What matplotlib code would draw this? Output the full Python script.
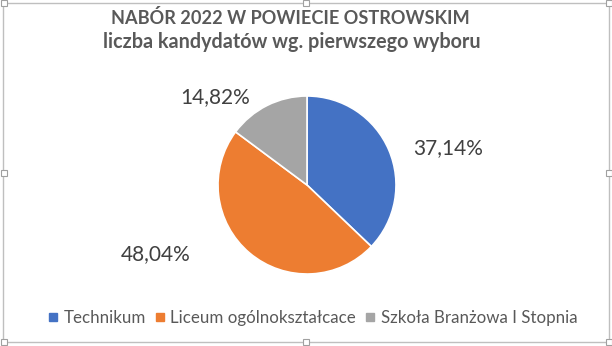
import numpy as np
import matplotlib.pyplot as plt
from matplotlib.patches import Rectangle
from matplotlib.lines import Line2D

plt.rcParams['font.family'] = ['Lato', 'DejaVu Sans']

# data
categories = ['Technikum', 'Liceum ogólnokształcace', 'Szkoła Branżowa I Stopnia']
shares = [37.14, 48.04, 14.82]
colors = ['#4472C4', '#ED7D31', '#A5A5A5']
title_lines = ['NABÓR 2022 W POWIECIE OSTROWSKIM',
               'liczba kandydatów wg. pierwszego wyboru']

W, H = 612, 346
cx, cy, R = 307, 185, 89   # pie centre / radius in pixels (from top)

fig = plt.figure(figsize=(W / 100, H / 100), dpi=100)
ax = fig.add_axes([0, 0, 1, 1])

wedges, _ = ax.pie(shares, colors=colors, startangle=90, counterclock=False,
                   wedgeprops=dict(edgecolor='white', linewidth=1.2))

# pixel-scaled data limits so 1 unit == R pixels
ax.set_xlim(-cx / R, (W - cx) / R)
ax.set_ylim(-(H - cy) / R, cy / R)
ax.set_aspect('auto')
ax.axis('off')

# data labels outside the wedges (Excel "best fit" placement), in pie radii
label_pos = [(1.58, 0.42), (-1.70, -0.78), (-1.03, 0.99)]
for val, (lx, ly) in zip(shares, label_pos):
    ax.text(lx, ly, f'{val:.2f}%'.replace('.', ','),
            ha='center', va='center', fontsize=15, color='#404040')

# title
fig.text(290 / W, 1 - 18 / H, title_lines[0], ha='center', va='center',
         fontsize=13.1, fontweight='bold', color='#595959')
fig.text(292 / W, 1 - 42 / H, title_lines[1], ha='center', va='center',
         fontsize=14.2, fontweight='bold', color='#595959')

# legend
handles = [Line2D([], [], marker='s', linestyle='none', markersize=6,
                  markerfacecolor=c, markeredgecolor=c) for c in colors]
fig.legend(handles, categories, loc='center', bbox_to_anchor=(311 / W, 1 - 318 / H),
           ncol=3, frameon=False, fontsize=12.2, labelcolor='#595959',
           handletextpad=0.1, columnspacing=0.35, handlelength=1.0)

# chart frame with selection handles
fig.patches.append(Rectangle((3.5 / W, 4 / H), 605 / W, 339 / H, transform=fig.transFigure,
                             fill=False, edgecolor='#BFBFBF', linewidth=1))
for hx in (3.5, 306, 608.5):
    for hy in (3, 173, 342):
        if hx == 306 and hy == 173:
            continue
        fig.patches.append(Rectangle(((hx - 3) / W, 1 - (hy + 3) / H), 6 / W, 6 / H,
                                     transform=fig.transFigure, facecolor='white',
                                     edgecolor='#A0A0A0', linewidth=0.8, zorder=5))

fig.savefig('out.png', dpi=100)
